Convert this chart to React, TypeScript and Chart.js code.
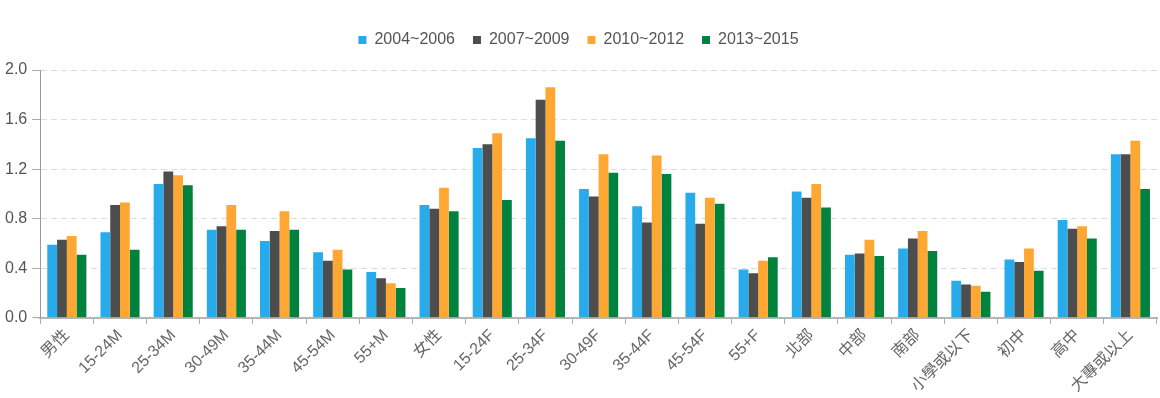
import React, { useEffect, useRef } from "react";
import { Chart, registerables } from "chart.js";

Chart.register(...registerables);

const categories = [
  "男性", "15-24M", "25-34M", "30-49M", "35-44M", "45-54M", "55+M",
  "女性", "15-24F", "25-34F", "30-49F", "35-44F", "45-54F", "55+F",
  "北部", "中部", "南部", "小學或以下", "初中", "高中", "大專或以上",
];

const seriesNames = ["2004~2006", "2007~2009", "2010~2012", "2013~2015"];

const s2004 = [0.59, 0.69, 1.08, 0.71, 0.62, 0.53, 0.37, 0.91, 1.37, 1.45, 1.04, 0.90, 1.01, 0.39, 1.02, 0.51, 0.56, 0.30, 0.47, 0.79, 1.32];
const s2007 = [0.63, 0.91, 1.18, 0.74, 0.70, 0.46, 0.32, 0.88, 1.40, 1.76, 0.98, 0.77, 0.76, 0.36, 0.97, 0.52, 0.64, 0.27, 0.45, 0.72, 1.32];
const s2010 = [0.66, 0.93, 1.15, 0.91, 0.86, 0.55, 0.28, 1.05, 1.49, 1.86, 1.32, 1.31, 0.97, 0.46, 1.08, 0.63, 0.70, 0.26, 0.56, 0.74, 1.43];
const s2013 = [0.51, 0.55, 1.07, 0.71, 0.71, 0.39, 0.24, 0.86, 0.95, 1.43, 1.17, 1.16, 0.92, 0.49, 0.89, 0.50, 0.54, 0.21, 0.38, 0.64, 1.04];

const colors = ["#27ABEA", "#4D4D4D", "#FFA733", "#00823F"];

const yTicks = [0, 0.4, 0.8, 1.2, 1.6, 2.0];

const FONT = "'Liberation Sans', Arial, 'Noto Sans CJK TC', sans-serif";

export default function App() {
  const ref = useRef<HTMLCanvasElement | null>(null);
  useEffect(() => {
    if (!ref.current) return;
    const data = [s2004, s2007, s2010, s2013];
    const legendSpacer = {
      id: "legendSpacer",
      beforeInit(chart: any) {
        const orig = chart.legend.fit;
        chart.legend.fit = function () {
          orig.call(this);
          this.height += 12;
        };
      },
    };
    const chart = new Chart(ref.current, {
      type: "bar",
      data: {
        labels: categories,
        datasets: seriesNames.map((n, i) => ({
          label: n,
          data: data[i],
          backgroundColor: colors[i],
          borderWidth: 0,
          categoryPercentage: 0.735,
          barPercentage: 1.0,
        })),
      },
      plugins: [legendSpacer],
      options: {
        animation: false,
        responsive: false,
        maintainAspectRatio: false,
        layout: { padding: { top: 14, right: 3, left: 0, bottom: 0 } },
        plugins: {
          legend: {
            position: "top",
            labels: {
              boxWidth: 8,
              boxHeight: 8,
              padding: 18,
              color: "#555",
              font: { family: FONT, size: 16 },
            },
          },
          tooltip: { enabled: false },
        },
        scales: {
          x: {
            offset: true,
            grid: {
              offset: true,
              drawOnChartArea: false,
              drawTicks: true,
              tickLength: 6,
              tickColor: "#aaa",
            },
            border: { display: true, color: "#b5b5b5", width: 2 },
            ticks: {
              maxRotation: 45,
              minRotation: 45,
              autoSkip: false,
              color: "#666",
              padding: 2,
              font: { family: FONT, size: 16 },
            },
          },
          y: {
            min: 0,
            max: 2.0,
            afterBuildTicks: (scale: any) => {
              scale.ticks = yTicks.map((v) => ({ value: v }));
            },
            grid: {
              color: "#ddd",
              lineWidth: 1,
              tickLength: 8,
              tickColor: "#aaa",
              tickBorderDash: [],
            },
            border: { display: true, color: "#999", width: 1, dash: [6, 4] },
            ticks: {
              color: "#555",
              padding: 5,
              callback: (v: any) => Number(v).toFixed(1),
              font: { family: FONT, size: 16 },
            },
          },
        },
      },
    });
    return () => chart.destroy();
  }, []);
  return (
    <div style={{ position: "absolute", left: 0, top: 0, width: 1160, height: 398 }}>
      <canvas ref={ref} width={1160} height={398} style={{ width: 1160, height: 398, display: "block" }} />
    </div>
  );
}
